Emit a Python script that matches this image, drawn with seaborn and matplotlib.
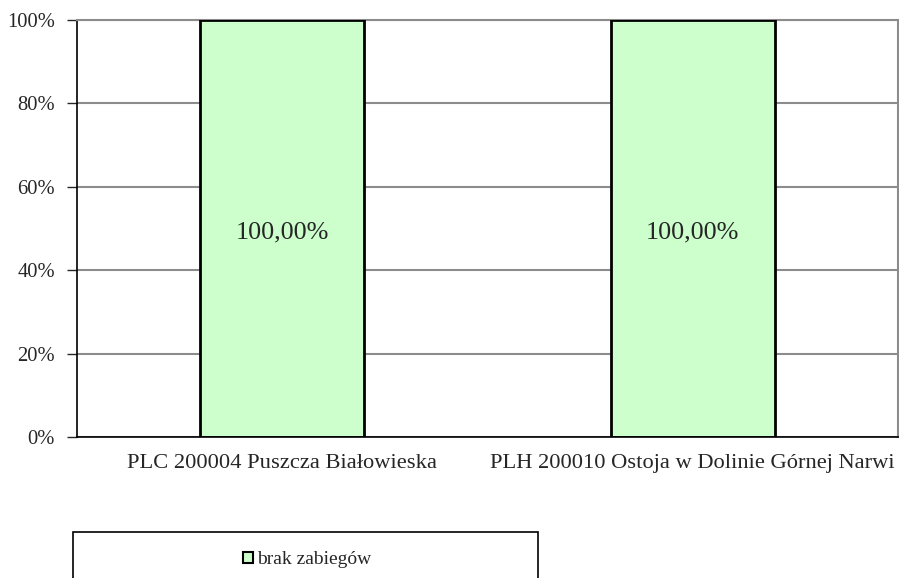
import pandas as pd
import numpy as np
import seaborn as sns
import matplotlib as mpl
from matplotlib import pyplot as plt
from matplotlib.patches import Rectangle, Patch
from matplotlib.ticker import PercentFormatter

sites = ['PLC 200004 Puszcza Białowieska', 'PLH 200010 Ostoja w Dolinie Górnej Narwi']
share = [100.0, 100.0]
series_name = 'brak zabiegów'

df = pd.DataFrame({'site': sites, 'share': share})

sns.set_style('white')
plt.rcParams['font.family'] = ['Liberation Serif', 'DejaVu Serif']

fig = plt.figure(figsize=(8.99, 5.78), dpi=100)
ax = fig.add_axes([77/899, 1-437/578, (898-77)/899, (437-20)/578])

sns.barplot(data=df, x='site', y='share', color='#CCFFCC', edgecolor='black',
            linewidth=2, width=0.4, saturation=1, ax=ax, zorder=3)
ax.bar_label(ax.containers[0], labels=['100,00%' for v in share],
             label_type='center', fontsize=18.8, padding=-3)

ax.set_xlim(-0.5, 1.5)
ax.set_ylim(0, 100)
ax.set_yticks(np.arange(0, 101, 20))
ax.yaxis.set_major_formatter(PercentFormatter(decimals=0))
ax.yaxis.grid(True, color='#8c8c8c', linewidth=1.5, zorder=0)
ax.set_axisbelow(True)
ax.set_xlabel('')
ax.set_ylabel('')

ax.set_xticks([0, 1])
ax.set_xticklabels(sites, fontsize=16.2)
ax.set_xticks([0.5, 1.5], minor=True)
ax.tick_params(axis='x', which='major', length=0, pad=12)
ax.tick_params(axis='x', which='minor', length=8, width=1, color='#555555', direction='out')
ax.tick_params(axis='y', length=7, width=1, direction='out', left=True, labelsize=14.8, pad=9)

for s in ['left', 'bottom']:
    ax.spines[s].set_color('black')
    ax.spines[s].set_linewidth(1.2)
for s in ['top', 'right']:
    ax.spines[s].set_color('#8c8c8c')
    ax.spines[s].set_linewidth(1.5)
ax.spines['bottom'].set_zorder(4)

# legend box, cut off at the bottom edge like the original
fig.patches.append(Rectangle((73/899, -0.05), (538-73)/899, (578-532)/578 + 0.05,
                             transform=fig.transFigure, fill=False,
                             edgecolor='black', linewidth=1.2))
handle = Patch(facecolor='#CCFFCC', edgecolor='black', linewidth=1.5)
fig.legend([handle], [series_name], loc='center', bbox_to_anchor=(307/899, 1-560/578),
           frameon=False, fontsize=14, handlelength=0.55, handleheight=0.55,
           handletextpad=0.2)

fig.savefig('out.png', dpi=100)
